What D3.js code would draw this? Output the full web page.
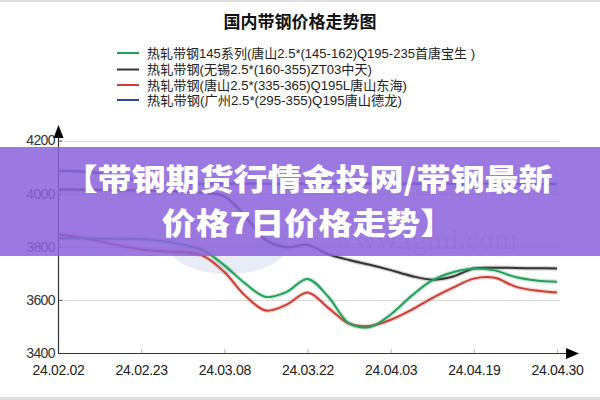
<!DOCTYPE html>
<html><head><meta charset="utf-8">
<script src="https://cdn.jsdelivr.net/npm/d3@7"></script>
<style>html,body{margin:0;padding:0;background:#fff;} svg{display:block;}</style>
</head><body>
<svg id="c" width="600" height="400"></svg>
<script>
const title = "国内带钢价格走势图";
const seriesNames = [
  "热轧带钢145系列(唐山2.5*(145-162)Q195-235首唐宝生 )",
  "热轧带钢(无锡2.5*(160-355)ZT03中天)",
  "热轧带钢(唐山2.5*(335-365)Q195L唐山东海)",
  "热轧带钢(广州2.5*(295-355)Q195唐山德龙)"
];
const seriesColors = ["#22a05a", "#333333", "#cc3f34", "#2a4a98"];
const xLabels = ["24.02.02", "24.02.23", "24.03.08", "24.03.22", "24.04.03", "24.04.19", "24.04.30"];
const yTicks = [3400, 3600, 3800, 4000, 4200];
// sample positions, in units of x-axis tick steps
const pos = [0, 0.25, 0.5, 0.75, 1, 1.25, 1.5, 1.75, 2, 2.25, 2.5, 2.75, 3, 3.25, 3.5, 3.75, 4, 4.25, 4.5, 4.75, 5, 5.25, 5.5, 5.75, 6];
const greenSeries = [3832, 3832, 3831, 3830, 3828, 3822, 3808, 3786, 3730, 3662, 3611, 3630, 3679, 3612, 3512, 3498, 3545, 3615, 3673, 3704, 3718, 3711, 3686, 3673, 3668];
const blackSeries = [4015, 4015, 4014, 4013, 4012, 4010, 4008, 4004, 3990, 3915, 3825, 3798, 3807, 3772, 3750, 3732, 3712, 3690, 3676, 3688, 3718, 3721, 3720, 3719, 3718];
const redSeries = [3848, 3836, 3820, 3804, 3790, 3783, 3779, 3765, 3705, 3616, 3560, 3582, 3628, 3570, 3510, 3502, 3525, 3562, 3607, 3646, 3680, 3683, 3650, 3635, 3628];
const blueSeries = [4085, 4084, 4077, 4062, 4048, 4041, 4038, 4037, 4037, 4037, 4037, 4037, 4037, 4037, 4037, 4037, 4037, 4037, 4037, 4037, 4037, 4037, 4037, 4036, 4036];
const bannerLines = ["【带钢期货行情金投网/带钢最新", "价格7日价格走势】"];
const watermark = "www.lgmi.com";

const allSeries = [greenSeries, blackSeries, redSeries, blueSeries];

const svg = d3.select("#c");
svg.append("rect").attr("x", 0).attr("y", 0).attr("width", 600).attr("height", 400).attr("fill", "#fff");
svg.append("rect").attr("x", 0).attr("y", 0).attr("width", 600).attr("height", 2).attr("fill", "#dedede");
svg.append("rect").attr("x", 0).attr("y", 397).attr("width", 600).attr("height", 3).attr("fill", "#dedede");

const x = d3.scaleLinear().domain([0, 6]).range([58, 557]);
const y = d3.scaleLinear().domain([3400, 4200]).range([353, 140.5]);

// title
svg.append("text").attr("x", 300).attr("y", 20).attr("text-anchor", "middle")
  .attr("dominant-baseline", "central")
  .style("font-family", "'Noto Sans CJK SC', sans-serif").style("font-weight", "bold")
  .style("font-size", "17px").attr("fill", "#111").text(title);

// legend
const legendY = [53, 69.5, 85, 100];
const legendW = [328, 225, 260, 255];
const lg = svg.append("g");
seriesNames.forEach((nm, i) => {
  lg.append("line").attr("x1", 117).attr("x2", 139).attr("y1", legendY[i]).attr("y2", legendY[i])
    .attr("stroke", seriesColors[i]).attr("stroke-width", 2);
  lg.append("text").attr("x", 147).attr("y", legendY[i]).attr("dominant-baseline", "central")
    .style("font-family", "'Liberation Sans', 'Noto Sans CJK SC', sans-serif")
    .style("font-size", "13px").attr("fill", "#222")
    .attr("textLength", legendW[i]).attr("lengthAdjust", "spacingAndGlyphs")
    .text(nm);
});

// gridlines
svg.append("g").selectAll("line").data(yTicks.slice(1)).join("line")
  .attr("x1", 58).attr("x2", 560).attr("y1", d => Math.round(y(d)) + 0.5).attr("y2", d => Math.round(y(d)) + 0.5)
  .attr("stroke", "#dcdcdc").attr("stroke-width", 1);

// watermark
const wm = svg.append("g").attr("opacity", 0.55);
wm.append("ellipse").attr("cx", 228).attr("cy", 244).attr("rx", 60).attr("ry", 30)
  .attr("fill", "#d4def0");
wm.append("ellipse").attr("cx", 222).attr("cy", 240).attr("rx", 38).attr("ry", 18)
  .attr("fill", "#f2d6de");
wm.append("text").attr("x", 333).attr("y", 249)
  .style("font-family", "'Liberation Serif', serif").style("font-size", "30px")
  .attr("fill", "#bdbdbd").text(watermark);

// lines
const line = d3.line().x((d, i) => x(pos[i])).y(d => y(d)).curve(d3.curveCatmullRom.alpha(0.5));
const order = [3, 1, 2, 0];
const lg2 = svg.append("g");
order.forEach(i => {
  lg2.append("path").attr("d", line(allSeries[i])).attr("fill", "none")
    .attr("stroke", seriesColors[i]).attr("stroke-opacity", 0.22).attr("stroke-width", 4.5);
  lg2.append("path").attr("d", line(allSeries[i])).attr("fill", "none")
    .attr("stroke", seriesColors[i]).attr("stroke-width", 2);
});

// axes
const yAxis = d3.axisLeft(y).tickValues(yTicks).tickSize(-4).tickPadding(3).tickFormat(d3.format("d"));
const gy = svg.append("g").attr("transform", "translate(58,0)").call(yAxis);
gy.select(".domain").remove();
gy.selectAll(".tick line").attr("stroke", "#555");
gy.selectAll(".tick text").style("font-family", "'Liberation Sans', sans-serif").style("font-size", "14px")
  .attr("fill", "#333").style("letter-spacing", "-0.6px");

const xAxis = d3.axisBottom(x).tickValues(d3.range(xLabels.length)).tickSize(-4).tickPadding(12)
  .tickFormat(i => xLabels[i]);
const gx = svg.append("g").attr("transform", "translate(0,353)").call(xAxis);
gx.select(".domain").remove();
gx.selectAll(".tick line").attr("stroke", "#bbb");
gx.selectAll(".tick text").style("font-family", "'Liberation Sans', sans-serif").style("font-size", "14px")
  .attr("fill", "#222").style("letter-spacing", "-0.3px");

// axis lines with arrows
svg.append("line").attr("x1", 58.5).attr("x2", 58.5).attr("y1", 353.5).attr("y2", 136).attr("stroke", "#333").attr("stroke-width", 1.2);
svg.append("path").attr("d", "M58.5,125 L53.5,138 L63.5,138 Z").attr("fill", "#000");
svg.append("line").attr("x1", 58).attr("x2", 568).attr("y1", 353.5).attr("y2", 353.5).attr("stroke", "#333").attr("stroke-width", 1.2);
svg.append("path").attr("d", "M579,353.5 L566,348 L566,359 Z").attr("fill", "#000");

// banner overlay
svg.append("rect").attr("x", 0).attr("y", 147).attr("width", 600).attr("height", 109)
  .attr("fill", "rgb(138,99,219)").attr("fill-opacity", 0.86);
const bannerY = [189.5, 233.5];
bannerLines.forEach((t, i) => {
  const tx = svg.append("text").attr("text-anchor", "middle").attr("x", 308).attr("y", bannerY[i])
    .style("font-family", "'Noto Sans CJK SC', sans-serif").style("font-weight", "900")
    .style("font-size", "34px").attr("fill", "#fff").text(t);
  const w = tx.node().getComputedTextLength();
  tx.style("font-size", "30px").attr("textLength", w).attr("lengthAdjust", "spacingAndGlyphs");
});
</script>
</body></html>
